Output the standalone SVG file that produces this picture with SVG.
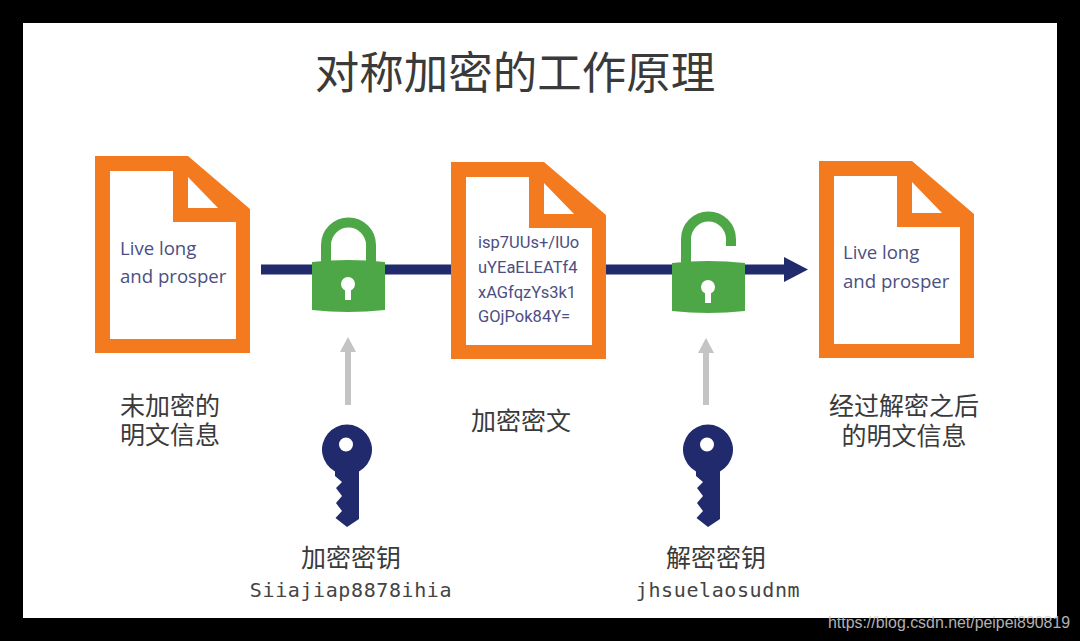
<svg xmlns="http://www.w3.org/2000/svg" width="1080" height="641" viewBox="0 0 1080 641">
<style>
.cn{font-family:"Noto Sans CJK SC","Noto Sans",sans-serif;fill:#3a3a3a;text-anchor:middle}
.lb{font-size:25px}
.mono{font-family:"DejaVu Sans Mono","Liberation Mono",monospace;fill:#444;font-size:20px;letter-spacing:0.600px;text-anchor:middle}
.doc{font-family:"Open Sans","Noto Sans",sans-serif;fill:#4b4f82;font-size:18.600px}
.cipher{font-family:"Roboto","Liberation Sans",sans-serif;fill:#4b4f82;font-size:16.500px}
.lock{fill:#4ea747}
.shackle{fill:none;stroke:#4ea747;stroke-width:10}
.key{fill:#212a6c}
.orange{fill:#f47a20;fill-rule:evenodd}
</style>
<defs>
<g id="docshape">
<path fill="#fff" d="M0 0H93L155 53V197H0Z"/>
<path class="orange" d="M0 0H93L155 53V197H0ZM15 15V183H141V66H78V15ZM93 21V52H123Z"/>
</g>
<path id="keyshape" class="key" fill-rule="evenodd" d="M-12 22.500A25 25 0 1 1 12 22.500V70L0 78L-11.500 69L-5 62L-11 54L-5 47L-11 39L-5 33L-12 27ZM-1 -11.500A7 7 0 1 0 -1 2.500A7 7 0 1 0 -1 -11.500Z"/>
<path id="bodyshape" class="lock" d="M0 2Q36 -2 73 2V50Q36 54 0 50Z"/>
</defs>
<rect width="1080" height="641" fill="#000"/>
<rect x="23" y="23" width="1034" height="595" fill="#fff"/>
<g id="connectors">
<rect x="261" y="264.500" width="524" height="10" fill="#212a6c"/>
<path d="M784 257L808 269.500L784 282Z" fill="#212a6c"/>
<path d="M345 405V352H340L348 337L356 352H351V405Z" fill="#c4c4c4"/>
<path d="M703 405V353H698L706 338L714 353H709V405Z" fill="#c4c4c4"/>
</g>
<text id="title" class="cn" x="515" y="89" font-size="44.500px">对称加密的工作原理</text>
<g id="plain-doc">
<use href="#docshape" x="95" y="156"/>
<text class="doc" x="120" y="255">Live long</text>
<text class="doc" x="120" y="283">and prosper</text>
<text class="cn lb" y="415"><tspan x="170">未加密的</tspan><tspan x="170" dy="29">明文信息</tspan></text>
</g>
<g id="lock-closed">
<path class="shackle" d="M326 262V245A22.500 22.500 0 0 1 371 245V262"/>
<use href="#bodyshape" x="312" y="260"/>
<circle cx="348" cy="284" r="7" fill="#fff"/>
<rect x="345" y="286" width="6" height="14" fill="#fff"/>
</g>
<g id="cipher-doc">
<use href="#docshape" x="451" y="162"/>
<text class="cipher" x="478" y="248">isp7UUs+/lUo</text>
<text class="cipher" x="478" y="273">uYEaELEATf4</text>
<text class="cipher" x="478" y="298">xAGfqzYs3k1</text>
<text class="cipher" x="478" y="322">GOjPok84Y=</text>
<text class="cn lb" x="521" y="430">加密密文</text>
</g>
<g id="lock-open">
<path class="shackle" d="M686 263V239A22.500 22.500 0 0 1 731 239V246"/>
<use href="#bodyshape" x="672" y="261"/>
<circle cx="708" cy="287" r="7" fill="#fff"/>
<rect x="705" y="289" width="6" height="14" fill="#fff"/>
</g>
<g id="result-doc">
<use href="#docshape" x="819" y="161"/>
<text class="doc" x="843" y="259">Live long</text>
<text class="doc" x="843" y="288">and prosper</text>
<text class="cn lb" y="415"><tspan x="904">经过解密之后</tspan><tspan x="904" dy="30">的明文信息</tspan></text>
</g>
<g id="encrypt-key">
<use href="#keyshape" x="347" y="449"/>
<text class="cn lb" y="567"><tspan x="351">加密密钥</tspan><tspan x="351" dy="30" class="mono">Siiajiap8878ihia</tspan></text>
</g>
<g id="decrypt-key">
<use href="#keyshape" x="708" y="449"/>
<text class="cn lb" y="567"><tspan x="716">解密密钥</tspan><tspan x="718" dy="30" class="mono">jhsuelaosudnm</tspan></text>
</g>
<text id="watermark" x="828" y="628" font-family="Liberation Sans, Arial, sans-serif" font-size="15.900px" fill="#d0d0d0" opacity="0.85">https://blog.csdn.net/peipei890819</text>
</svg>
